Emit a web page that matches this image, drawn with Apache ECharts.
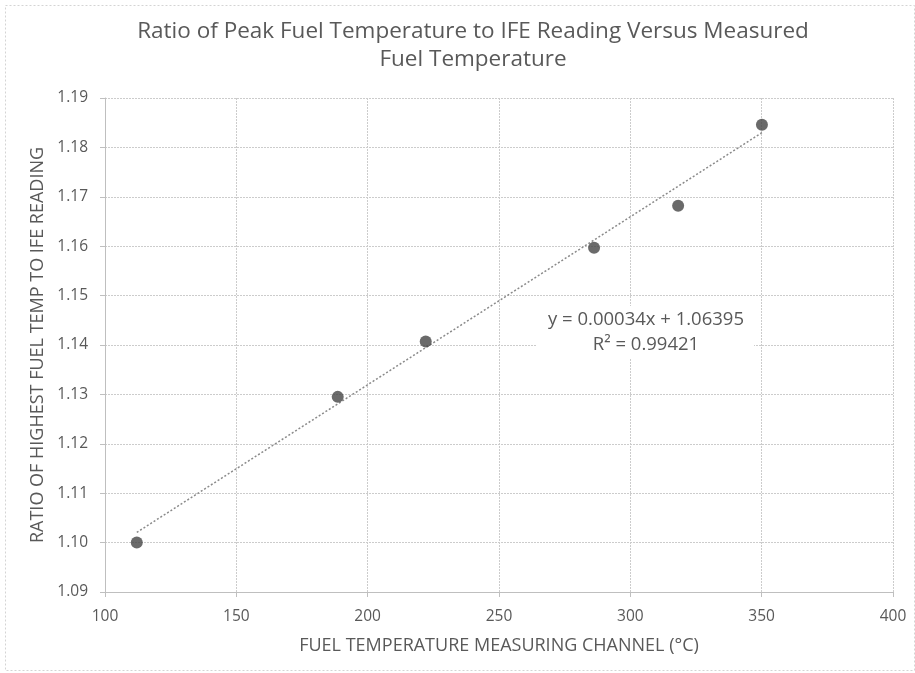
<!DOCTYPE html>
<html>
<head>
<meta charset="utf-8">
<script src="https://cdn.jsdelivr.net/npm/echarts@6/dist/echarts.min.js"></script>
<style>
html,body{margin:0;padding:0;background:#fff;}
#chart{width:915px;height:673px;}
</style>
</head>
<body>
<div id="chart"></div>
<script>
// Data
var fuelTemp = [112.1, 188.6, 222.1, 286.2, 318.2, 350.1];
var ratio = [1.100, 1.1295, 1.1407, 1.1597, 1.1682, 1.1846];
var trendSlope = 0.00034;
var trendIntercept = 1.06395;
var rSquared = 0.99421;
var xTicks = [100, 150, 200, 250, 300, 350, 400];
var yTicks = [1.09, 1.10, 1.11, 1.12, 1.13, 1.14, 1.15, 1.16, 1.17, 1.18, 1.19];

var points = fuelTemp.map(function (x, i) { return [x, ratio[i]]; });
var xMinData = Math.min.apply(null, fuelTemp);
var xMaxData = Math.max.apply(null, fuelTemp);
var trend = [
  [xMinData, trendSlope * xMinData + trendIntercept],
  [xMaxData, trendSlope * xMaxData + trendIntercept]
];

var FONT = 'Open Sans';
var chart = echarts.init(document.getElementById('chart'));
chart.setOption({
  animation: false,
  backgroundColor: '#ffffff',
  title: {
    text: 'Ratio of Peak Fuel Temperature to IFE Reading Versus Measured\nFuel Temperature',
    left: 468,
    textAlign: 'center',
    top: 13,
    textStyle: { fontFamily: FONT, fontSize: 22.5, fontWeight: 'normal', color: '#595959', lineHeight: 28 }
  },
  grid: { left: 105, right: 22, top: 98, bottom: 81, containLabel: false },
  xAxis: {
    type: 'value',
    min: xTicks[0],
    max: xTicks[xTicks.length - 1],
    interval: 50,
    name: 'FUEL TEMPERATURE MEASURING CHANNEL (°C)',
    nameLocation: 'middle',
    nameGap: 45,
    nameTextStyle: { fontFamily: FONT, fontSize: 18, color: '#595959' },
    axisLine: { show: true, lineStyle: { color: '#bfbfbf', width: 1 } },
    axisTick: { show: true, length: 5, lineStyle: { color: '#bfbfbf' } },
    axisLabel: { fontFamily: FONT, fontSize: 15.5, color: '#595959', margin: 17 },
    splitLine: { show: true, lineStyle: { color: '#cccccc', type: [2, 1], width: 1 } }
  },
  yAxis: {
    type: 'value',
    min: yTicks[0],
    max: yTicks[yTicks.length - 1],
    interval: 0.01,
    name: 'RATIO OF HIGHEST FUEL TEMP TO IFE READING',
    nameLocation: 'middle',
    nameGap: 58,
    nameTextStyle: { fontFamily: FONT, fontSize: 18, color: '#595959' },
    axisLine: { show: true, lineStyle: { color: '#bfbfbf', width: 1 } },
    axisTick: { show: true, length: 5, lineStyle: { color: '#bfbfbf' } },
    axisLabel: {
      fontFamily: FONT, fontSize: 15.5, color: '#595959', margin: 17,
      formatter: function (v) { return v.toFixed(2); }
    },
    splitLine: { show: true, lineStyle: { color: '#cccccc', type: [2, 1], width: 1 } }
  },
  series: [
    {
      type: 'line',
      data: trend,
      symbol: 'none',
      silent: true,
      lineStyle: { color: '#8a8a8a', width: 1.5, type: [2, 2] },
      z: 2
    },
    {
      type: 'scatter',
      data: points,
      symbol: 'circle',
      symbolSize: 12,
      itemStyle: { color: '#454545' },
      z: 3
    }
  ],
  graphic: [
    {
      type: 'rect',
      left: 3, top: 3,
      shape: { width: 909, height: 665 },
      style: { fill: 'none', stroke: '#d4d4d4', lineWidth: 1, lineDash: [2, 2] },
      silent: true
    },
    {
      type: 'rect',
      left: 536, top: 306,
      shape: { width: 218, height: 52 },
      style: { fill: '#ffffff' },
      z: 50
    },
    {
      type: 'text',
      x: 646, y: 307,
      z: 51,
      style: {
        text: 'y = 0.00034x + 1.06395\nR² = ' + rSquared.toFixed(5),
        align: 'center',
        verticalAlign: 'top',
        fontFamily: FONT, fontSize: 18.5, lineHeight: 25, fill: '#595959'
      }
    }
  ]
});
</script>
</body>
</html>
